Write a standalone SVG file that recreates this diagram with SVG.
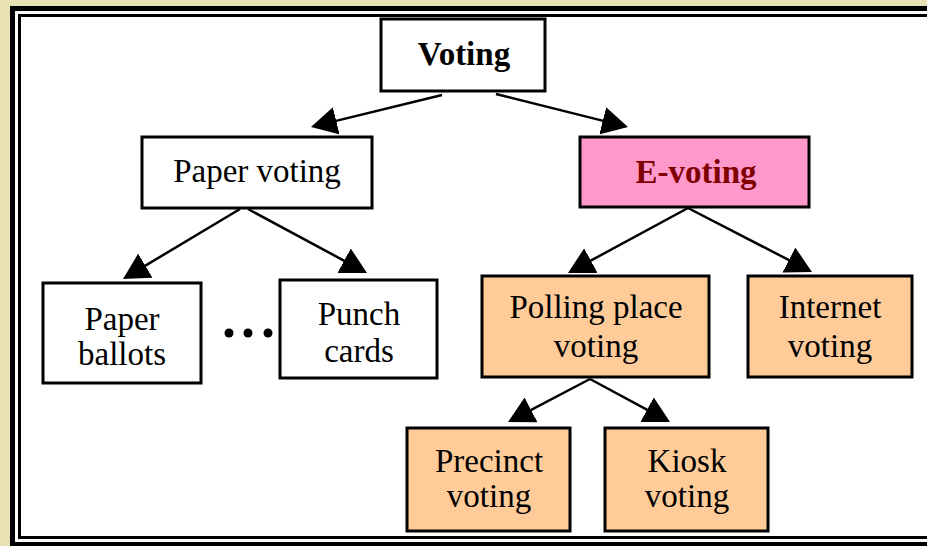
<svg xmlns="http://www.w3.org/2000/svg" width="927" height="546" viewBox="0 0 927 546">
<style>
.box{stroke:#000;stroke-width:3}
.w{fill:#fff}
.o{fill:#ffcc99}
.p{fill:#ff99cc}
text{font-family:"Liberation Serif","Times New Roman",serif;font-size:33px;fill:#000;text-anchor:middle}
.b{font-weight:bold}
.conn line{stroke:#000;stroke-width:2.5;marker-end:url(#ah)}
</style>
<defs>
<marker id="ah" markerUnits="userSpaceOnUse" viewBox="0 0 26 28" markerWidth="26" markerHeight="28" refX="16" refY="14" orient="auto">
<path d="M0,0 L26,14 L0,28 z" fill="#000"/>
</marker>
</defs>
<rect x="0" y="0" width="927" height="546" fill="#e8e1b4"/>
<rect x="10" y="6" width="930" height="560" fill="#000"/>
<rect x="15" y="11" width="930" height="531" fill="#fff"/>
<rect x="19.5" y="15.5" width="930" height="522" fill="#fff" stroke="#000" stroke-width="3"/>
<g class="conn">
<line x1="442" y1="95" x2="320.7" y2="124.6"/>
<line x1="496" y1="94" x2="618.3" y2="124.6"/>
<line x1="240" y1="209" x2="131.6" y2="273.9"/>
<line x1="248" y1="209" x2="358.2" y2="268.3"/>
<line x1="688" y1="208" x2="576.8" y2="268.2"/>
<line x1="688" y1="208" x2="803.1" y2="267.4"/>
<line x1="590" y1="379" x2="516.9" y2="417.4"/>
<line x1="590" y1="379" x2="661.2" y2="417.3"/>
</g>
<g id="voting">
<rect class="box w" x="381" y="19" width="164" height="72"/>
<text class="b" x="464" y="65">Voting</text>
</g>
<g id="paper-voting">
<rect class="box w" x="142" y="137" width="230" height="71"/>
<text x="257" y="182">Paper voting</text>
</g>
<g id="e-voting">
<rect class="box p" x="580" y="137" width="229" height="70"/>
<text class="b" x="696" y="183" style="fill:#800000">E-voting</text>
</g>
<g id="paper-ballots">
<rect class="box w" x="43" y="283" width="158" height="100"/>
<text x="122" y="330">Paper</text>
<text x="122" y="365">ballots</text>
</g>
<g id="dots">
<circle cx="229" cy="333" r="4.5" fill="#000"/>
<circle cx="248" cy="333" r="4.5" fill="#000"/>
<circle cx="268" cy="333" r="4.5" fill="#000"/>
</g>
<g id="punch-cards">
<rect class="box w" x="280" y="280" width="157" height="98"/>
<text x="359" y="325">Punch</text>
<text x="359" y="362">cards</text>
</g>
<g id="polling-place">
<rect class="box o" x="482" y="276" width="227" height="101"/>
<text x="596" y="318">Polling place</text>
<text x="596" y="357">voting</text>
</g>
<g id="internet">
<rect class="box o" x="748" y="276" width="164" height="101"/>
<text x="830" y="318">Internet</text>
<text x="830" y="357">voting</text>
</g>
<g id="precinct">
<rect class="box o" x="407" y="428" width="163" height="103"/>
<text x="489" y="472">Precinct</text>
<text x="489" y="507">voting</text>
</g>
<g id="kiosk">
<rect class="box o" x="605" y="428" width="163" height="103"/>
<text x="687" y="472">Kiosk</text>
<text x="687" y="507">voting</text>
</g>
</svg>
